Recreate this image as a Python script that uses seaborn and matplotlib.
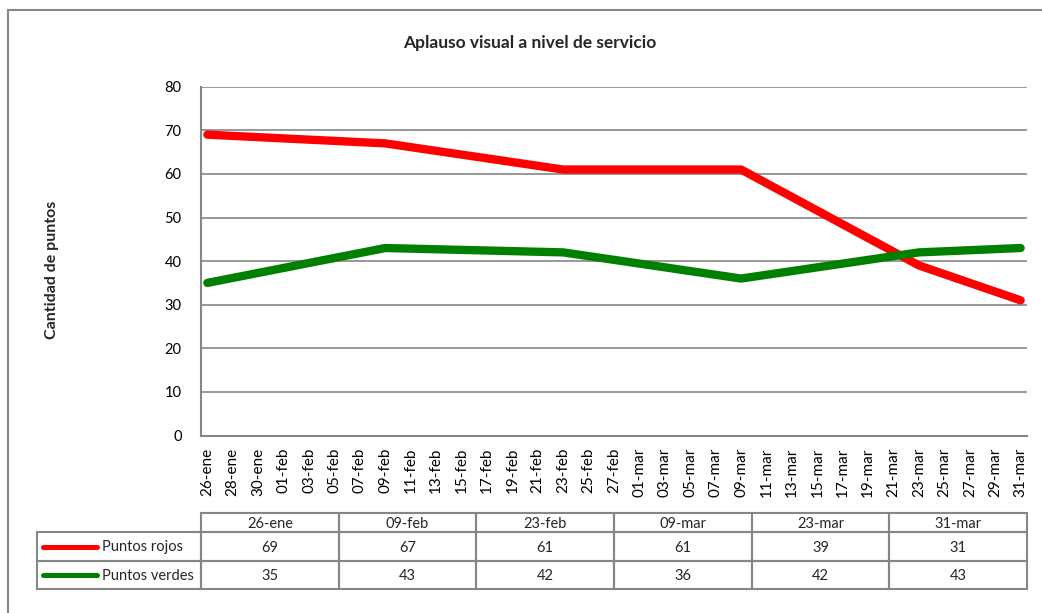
import numpy as np
import pandas as pd
import matplotlib
matplotlib.use("Agg")
import matplotlib.pyplot as plt
import matplotlib.dates as mdates
from matplotlib.ticker import FuncFormatter, FixedLocator
from matplotlib.lines import Line2D
from matplotlib.patches import Rectangle
import seaborn as sns

# ---- data ----
fechas = ["2023-01-26", "2023-02-09", "2023-02-23", "2023-03-09", "2023-03-23", "2023-03-31"]
etiquetas = ["26-ene", "09-feb", "23-feb", "09-mar", "23-mar", "31-mar"]
series = ["Puntos rojos", "Puntos verdes"]
puntos_rojos = [69, 67, 61, 61, 39, 31]
puntos_verdes = [35, 43, 42, 36, 42, 43]
colores = ["#FF0000", "#008000"]
meses = ["ene", "feb", "mar", "abr", "may", "jun", "jul", "ago", "sep", "oct", "nov", "dic"]
titulo = "Aplauso visual a nivel de servicio"
ylabel = "Cantidad de puntos"

sns.set_theme(style="white")
plt.rcParams["font.family"] = ["Lato", "DejaVu Sans"]

df = pd.DataFrame({
    "fecha": pd.to_datetime(fechas * 2),
    "valor": puntos_rojos + puntos_verdes,
    "serie": [series[0]] * len(fechas) + [series[1]] * len(fechas),
})

W, H = 1042, 613
fig = plt.figure(figsize=(W / 100, H / 100), dpi=100)
GRAY = "#868686"

# outer chart border (top & left visible)
fig.add_artist(Line2D([7.5 / W, 7.5 / W], [0, 1 - 10 / H], transform=fig.transFigure, color=GRAY, lw=1.5))
fig.add_artist(Line2D([7.5 / W, 1], [1 - 10 / H, 1 - 10 / H], transform=fig.transFigure, color=GRAY, lw=1.5))

ax = fig.add_axes([201 / W, 1 - 435.5 / H, (1027 - 201) / W, (435.5 - 86.7) / H])
sns.lineplot(data=df, x="fecha", y="valor", hue="serie", hue_order=series,
             palette=colores, lw=6.0, legend=False, ax=ax)
for ln in ax.get_lines():
    ln.set_solid_capstyle("round")
    ln.set_solid_joinstyle("round")

d0 = pd.Timestamp(fechas[0])
d1 = pd.Timestamp(fechas[-1])
ax.set_xlim(mdates.date2num(d0) - 0.5, mdates.date2num(d1) + 0.5)
ax.set_ylim(0, 80)
ax.set_yticks(np.arange(0, 81, 10))
ax.xaxis.set_major_locator(FixedLocator(mdates.date2num(pd.date_range(d0, d1, freq="2D"))))
ax.xaxis.set_major_formatter(FuncFormatter(
    lambda v, p: "%02d-%s" % (mdates.num2date(v).day, meses[mdates.num2date(v).month - 1])))
ax.grid(axis="y", color=GRAY, lw=1.2)
ax.set_axisbelow(True)
for s in ["top", "right"]:
    ax.spines[s].set_visible(False)
for s in ["left", "bottom"]:
    ax.spines[s].set_color(GRAY)
    ax.spines[s].set_linewidth(1.5)
ax.tick_params(axis="both", length=0, colors="black")
ax.tick_params(axis="y", pad=14, labelsize=10.5)
ax.tick_params(axis="x", pad=9, labelsize=11)
plt.setp(ax.get_xticklabels(), rotation=90, ha="center", va="top")
ax.set_xlabel("")
ax.set_ylabel("")

fig.text(530 / W, 1 - 43 / H, titulo, ha="center", va="center", fontsize=12.5, fontweight="bold")
fig.text(52 / W, 1 - 270 / H, ylabel, ha="center", va="center", rotation=90, fontsize=11.5, fontweight="bold")

# ---- data table ----
tl, tr, tt, tb = 37, 1027, 513, 589
tax = fig.add_axes([tl / W, 1 - tb / H, (tr - tl) / W, (tb - tt) / H])
tax.set_xlim(0, tr - tl)
tax.set_ylim(tb - tt, 0)
tax.axis("off")
label_w = 164
col_w = (tr - tl - label_w) / len(etiquetas)
row_h = [19, 29, 28]
rows_y = np.cumsum([0] + row_h)
valores = [puntos_rojos, puntos_verdes]
ekw = dict(fill=False, edgecolor=GRAY, lw=1.5, clip_on=False)
for j, lab in enumerate(etiquetas):
    x = label_w + j * col_w
    tax.add_patch(Rectangle((x, rows_y[0]), col_w, row_h[0], **ekw))
    tax.text(x + col_w / 2, rows_y[0] + row_h[0] / 2 + 1, lab, ha="center", va="center", fontsize=10.5)
for i, (nombre, vals, c) in enumerate(zip(series, valores, colores)):
    y = rows_y[i + 1]
    h = row_h[i + 1]
    tax.add_patch(Rectangle((0, y), label_w, h, **ekw))
    tax.plot([6, 60], [y + h / 2, y + h / 2], color=c, lw=3.6, solid_capstyle="round", clip_on=False)
    tax.text(65, y + h / 2 + 1, nombre, ha="left", va="center", fontsize=10.5)
    for j, v in enumerate(vals):
        x = label_w + j * col_w
        tax.add_patch(Rectangle((x, y), col_w, h, **ekw))
        tax.text(x + col_w / 2, y + h / 2 + 1, str(v), ha="center", va="center", fontsize=10.5)

fig.savefig("out.png", dpi=100)
